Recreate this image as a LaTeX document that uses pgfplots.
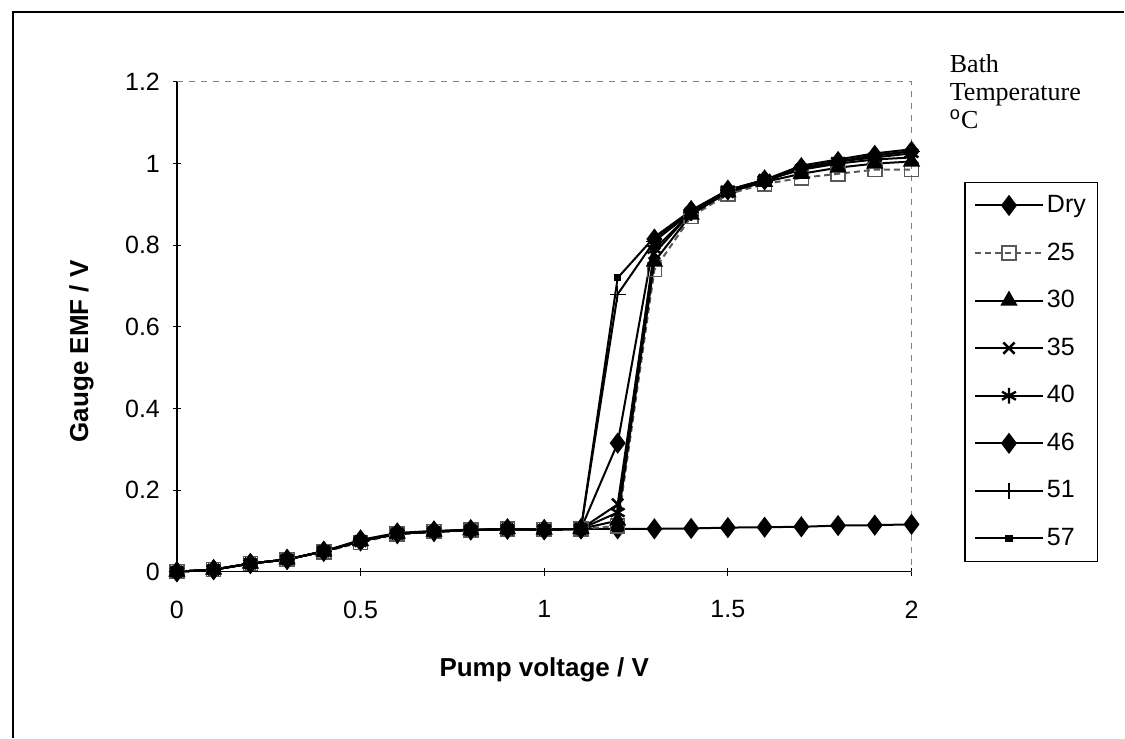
\documentclass[border=0pt]{standalone}
\usepackage{pgfplots}
\pgfplotsset{compat=1.18}
\usepackage{pgfplotstable}
\usepackage{fontspec}
\setmainfont{Liberation Sans}
\newfontfamily\serif{Liberation Serif}

% Pump voltage vs gauge EMF, one column per bath temperature
\pgfplotstableread{
V    Dry    T25    T30    T35    T40    T46    T51    T57
0.0  0.000  0.000  0.000  0.000  0.000  0.000  0.000  0.000
0.1  0.005  0.005  0.005  0.005  0.005  0.005  0.005  0.005
0.2  0.020  0.020  0.020  0.020  0.020  0.020  0.020  0.020
0.3  0.030  0.030  0.030  0.030  0.030  0.030  0.030  0.030
0.4  0.050  0.048  0.050  0.050  0.050  0.050  0.050  0.050
0.5  0.075  0.072  0.075  0.075  0.075  0.078  0.075  0.075
0.6  0.093  0.092  0.093  0.093  0.093  0.095  0.093  0.093
0.7  0.098  0.098  0.098  0.098  0.098  0.100  0.098  0.098
0.8  0.102  0.102  0.102  0.102  0.102  0.103  0.102  0.102
0.9  0.104  0.104  0.104  0.104  0.104  0.105  0.104  0.104
1.0  0.103  0.103  0.103  0.103  0.103  0.103  0.103  0.103
1.1  0.105  0.105  0.105  0.105  0.105  0.105  0.105  0.105
1.2  0.105  0.112  0.125  0.165  0.145  0.315  0.680  0.720
1.3  0.105  0.740  0.760  0.780  0.790  0.815  0.810  0.820
1.4  0.106  0.870  0.875  0.880  0.880  0.885  0.880  0.885
1.5  0.108  0.925  0.930  0.930  0.935  0.935  0.930  0.935
1.6  0.109  0.950  0.955  0.960  0.960  0.960  0.955  0.960
1.7  0.110  0.965  0.975  0.985  0.985  0.990  0.990  0.995
1.8  0.113  0.975  0.990  1.000  1.005  1.005  1.005  1.010
1.9  0.114  0.985  1.000  1.010  1.015  1.020  1.020  1.025
2.0  0.116  0.985  1.005  1.015  1.025  1.030  1.030  1.035
}\emf

\begin{document}
\begin{tikzpicture}
  % page size and the outer frame
  \path (0pt,0pt) rectangle (562.5pt,369pt);
  \draw[line width=0.6pt] (6.5pt,0pt) -- (6.5pt,363pt) -- (562.5pt,363pt);
  \node[anchor=north west, align=left, font=\serif\fontsize{13}{14}\selectfont,
        inner sep=0pt] at (475pt,342pt) {Bath\\Temperature\\$^{\mathrm{o}}$C};

  \begin{axis}[
    at={(88.5pt,83pt)}, anchor=south west,
    scale only axis,
    width=367.5pt, height=245pt,
    xmin=0, xmax=2,
    ymin=0, ymax=1.2,
    xtick={0,0.5,1,1.5,2},
    ytick={0,0.2,0.4,0.6,0.8,1,1.2},
    axis x line*=bottom,
    axis y line*=left,
    axis line style={line width=0.6pt, -},
    tick align=center,
    major tick length=4pt,
    tick style={black, line width=0.5pt},
    /pgf/number format/assume math mode=true,
    ticklabel style={font=\fontsize{12.5}{14}\selectfont},
    xticklabel style={yshift=-9pt},
    yticklabel style={xshift=-3pt},
    xlabel={\textbf{Pump voltage / V}},
    ylabel={\textbf{Gauge EMF / V}},
    label style={font=\fontsize{13}{15}\selectfont},
    xlabel style={at={(axis description cs:0.5,-0.2)}, anchor=center},
    ylabel style={at={(axis description cs:-0.13,0.45)}, anchor=center},
    clip=false,
    legend style={at={(1.072,0.796)}, anchor=north west, draw=black,
      line width=0.6pt, inner sep=4.5pt, row sep=9.8pt,
      font=\fontsize{12.5}{14}\selectfont,
      nodes={inner sep=1.5pt, text height=9pt, text depth=2pt}},
    legend cell align=left,
    legend image code/.code={
      \draw[mark repeat=2, mark phase=2]
        plot coordinates {(0pt,0pt) (17pt,0pt) (34pt,0pt)};},
    every axis plot/.append style={line width=1pt, black},
  ]
    % plot area border: dotted grid at the top, dashed on the right
    \draw[gray, dashed, line width=0.5pt] (rel axis cs:0,1) -- (rel axis cs:1,1) -- (rel axis cs:1,0);

    \addplot[mark=diamond*, mark size=4.5pt] table[x=V, y=Dry] {\emf};
    \addplot[gray!70!black, densely dashed, mark=square, mark size=3.5pt,
             mark options={solid, line width=0.8pt}] table[x=V, y=T25] {\emf};
    \addplot[mark=triangle*, mark size=4pt] table[x=V, y=T30] {\emf};
    \addplot[mark=x, mark size=4pt, mark options={line width=1.2pt}] table[x=V, y=T35] {\emf};
    \addplot[mark=asterisk, mark size=4pt, mark options={line width=1.2pt}] table[x=V, y=T40] {\emf};
    \addplot[mark=diamond*, mark size=4.5pt] table[x=V, y=T46] {\emf};
    \addplot[mark=+, mark size=4pt, mark options={line width=0.6pt}] table[x=V, y=T51] {\emf};
    \addplot[mark=square*, mark size=1.3pt] table[x=V, y=T57] {\emf};
    \legend{Dry, 25, 30, 35, 40, 46, 51, 57}
  \end{axis}
\end{tikzpicture}
\end{document}
